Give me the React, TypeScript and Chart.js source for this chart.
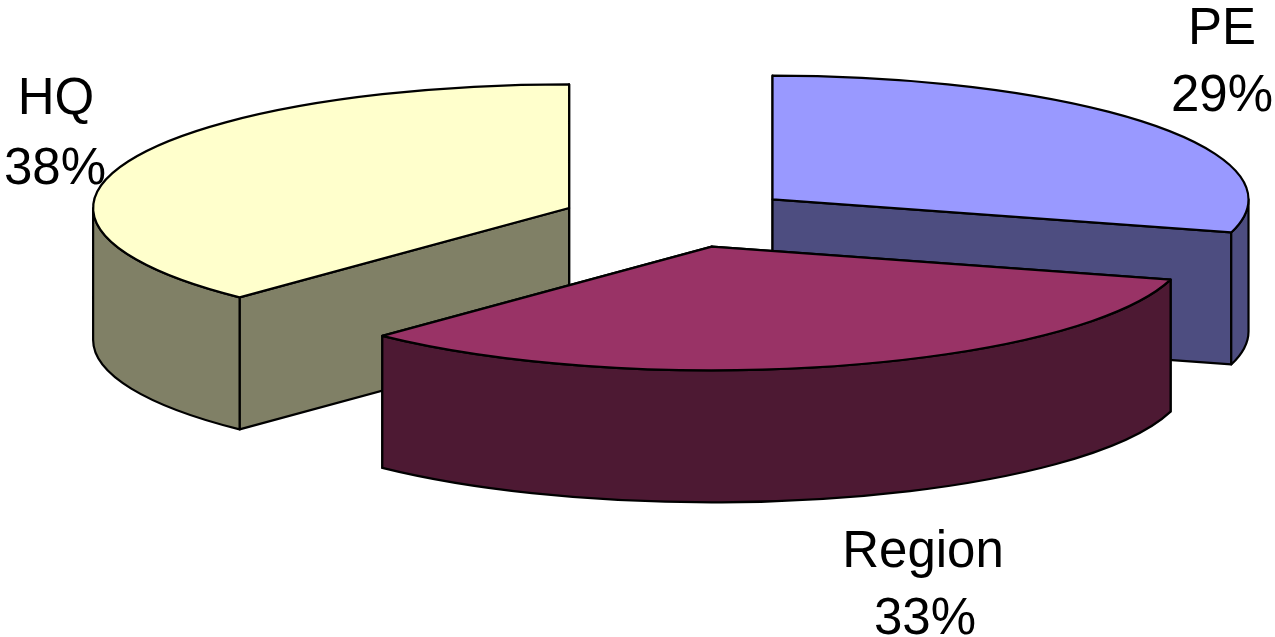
import React, { useEffect, useRef } from "react";
import { Chart, registerables } from "chart.js";

Chart.register(...registerables);

const categories = ["PE", "Region", "HQ"];
const shares = [29.3, 32.87, 37.83];
const percentLabels = ["29%", "33%", "38%"];
const topColors = ["#9999FF", "#993366", "#FFFFCC"];
const wallColors = ["#4D4D80", "#4D1933", "#808066"];
const drawOrder = [2, 0, 1];

const W = 1275;
const H = 637;
const RADIUS = 476;
const EXPLODE = 118;
const TILT = 0.26;
const DEPTH = 132;
const CENTER_X = 678.6;
const CENTER_Y = 218;
const STROKE = 2.2;
const nudge = [
  { x: 0, y: 0 },
  { x: 2, y: -1 },
  { x: 0, y: 1.5 },
];
const labelPos = [
  { x: 1222, y: 30, gap: 67, pctX: 1222 },
  { x: 923, y: 553, gap: 67, pctX: 925 },
  { x: 56, y: 100, gap: 70, pctX: 55 },
];

const pie3d = {
  id: "pie3d",
  beforeDatasetsDraw(chart: any) {
    const ctx: CanvasRenderingContext2D = chart.ctx;
    const arcs = chart.getDatasetMeta(0).data;
    drawOrder.forEach((i) => {
      const arc = arcs[i];
      const { x, y, startAngle, endAngle, outerRadius: r } = arc;
      const mid = (startAngle + endAngle) / 2;
      const ex = Math.cos(mid) * EXPLODE;
      const ey = Math.sin(mid) * EXPLODE;
      const cx = CENTER_X + ex + nudge[i].x;
      const cy = CENTER_Y + ey * TILT + nudge[i].y;
      const px = (a: number) => cx + Math.cos(a) * r;
      const py = (a: number) => cy + Math.sin(a) * r * TILT;

      ctx.save();
      ctx.lineWidth = STROKE;
      ctx.strokeStyle = "#000";
      ctx.lineJoin = "round";
      ctx.fillStyle = wallColors[i];

      // radial cut faces
      [startAngle, endAngle].forEach((a: number) => {
        ctx.beginPath();
        ctx.moveTo(cx, cy);
        ctx.lineTo(px(a), py(a));
        ctx.lineTo(px(a), py(a) + DEPTH);
        ctx.lineTo(cx, cy + DEPTH);
        ctx.closePath();
        ctx.fill();
        ctx.stroke();
      });

      // outer rim, front half only (screen angles 0..PI)
      const ranges = [
        [startAngle, endAngle],
        [startAngle + 2 * Math.PI, endAngle + 2 * Math.PI],
        [startAngle - 2 * Math.PI, endAngle - 2 * Math.PI],
      ];
      ranges.forEach(([s, e]) => {
        const a0 = Math.max(s, 0);
        const a1 = Math.min(e, Math.PI);
        if (a1 <= a0) return;
        ctx.beginPath();
        ctx.ellipse(cx, cy, r, r * TILT, 0, a0, a1);
        ctx.lineTo(px(a1), py(a1) + DEPTH);
        ctx.ellipse(cx, cy + DEPTH, r, r * TILT, 0, a1, a0, true);
        ctx.closePath();
        ctx.fill();
        ctx.stroke();
      });

      // top face: the library's own arc, squashed by the tilt
      ctx.save();
      ctx.translate(cx, cy);
      ctx.scale(1, TILT);
      ctx.translate(-x, -y);
      arc.draw(ctx);
      ctx.restore();

      ctx.beginPath();
      ctx.moveTo(cx, cy);
      ctx.ellipse(cx, cy, r, r * TILT, 0, startAngle, endAngle);
      ctx.closePath();
      ctx.stroke();
      ctx.restore();
    });
    return false;
  },
  afterDraw(chart: any) {
    const ctx: CanvasRenderingContext2D = chart.ctx;
    ctx.save();
    ctx.fillStyle = "#000";
    ctx.font = '51px "Liberation Sans"';
    ctx.textAlign = "center";
    ctx.textBaseline = "middle";
    categories.forEach((c, i) => {
      ctx.fillText(c, labelPos[i].x, labelPos[i].y);
      ctx.fillText(percentLabels[i], labelPos[i].pctX, labelPos[i].y + labelPos[i].gap);
    });
    ctx.restore();
  },
};

export default function App() {
  const ref = useRef<HTMLCanvasElement>(null);
  useEffect(() => {
    document.body.style.margin = "0";
    document.body.style.background = "#fff";
    const chart = new Chart(ref.current!, {
      type: "pie",
      data: {
        labels: categories,
        datasets: [
          {
            data: shares,
            backgroundColor: topColors,
            borderWidth: 0,
            offset: 0,
          },
        ],
      },
      options: {
        responsive: false,
        animation: false,
        radius: RADIUS,
        layout: { padding: 0 },
        plugins: { legend: { display: false }, tooltip: { enabled: false }, title: { display: false } },
      } as any,
      plugins: [pie3d as any],
    });
    return () => chart.destroy();
  }, []);
  return <canvas ref={ref} width={W} height={H} style={{ display: "block", width: W, height: H }} />;
}
